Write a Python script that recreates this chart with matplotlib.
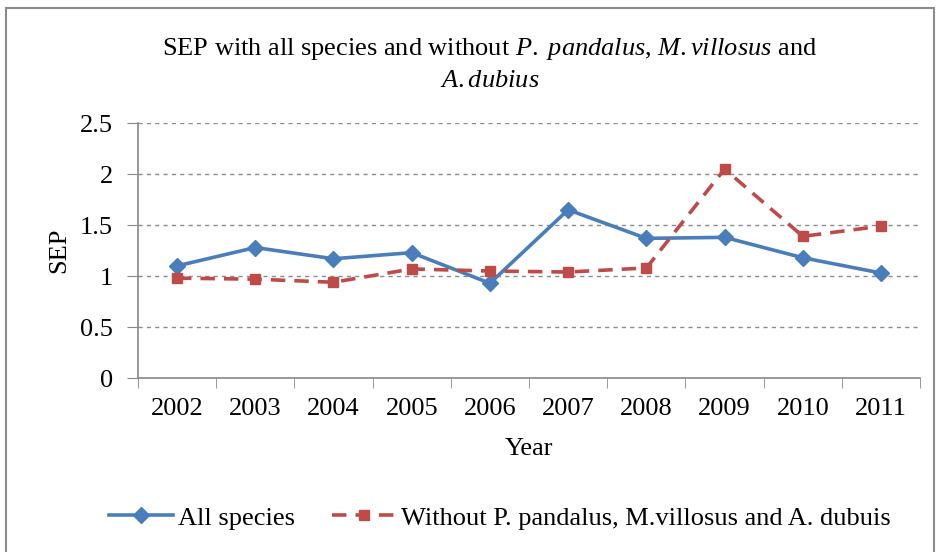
import matplotlib.pyplot as plt
import numpy as np
from matplotlib.patches import Rectangle

plt.rcParams['font.family'] = ['Liberation Serif', 'DejaVu Serif']
plt.rcParams['mathtext.fontset'] = 'custom'
plt.rcParams['mathtext.rm'] = 'Liberation Serif'
plt.rcParams['mathtext.it'] = 'Liberation Serif:italic'

years = ['2002', '2003', '2004', '2005', '2006', '2007', '2008', '2009', '2010', '2011']
all_species = [1.10, 1.28, 1.17, 1.23, 0.93, 1.65, 1.37, 1.38, 1.18, 1.03]
without = [0.98, 0.97, 0.94, 1.07, 1.05, 1.04, 1.08, 2.05, 1.39, 1.49]

fig = plt.figure(figsize=(9.38, 5.52), dpi=100)
ax = fig.add_axes([0.147, 0.315, 0.834, 0.462])

x = np.arange(len(years))
ax.plot(x, all_species, color='#4A7EBB', lw=2.6, marker='D', ms=8,
        label='All species')
ax.plot(x, without, color='#BE4B48', lw=2.6, ls=(0, (4, 2.5)), marker='s', ms=7,
        label='Without P. pandalus, M.villosus and A. dubuis')

ax.set_xlim(-0.5, len(years) - 0.5)
ax.set_ylim(0, 2.5)
ax.set_yticks(np.arange(0, 2.51, 0.5))
ax.set_yticklabels(['0', '0.5', '1', '1.5', '2', '2.5'])
ax.set_xticks(x)
ax.set_xticklabels(years)
ax.set_xticks(np.arange(-0.5, len(years), 1), minor=True)
ax.tick_params(axis='x', which='major', length=0, pad=14, labelsize=19)
ax.tick_params(axis='x', which='minor', length=7, direction='out', color='#888888')
ax.tick_params(axis='y', length=8, direction='out', color='#888888', labelsize=19, pad=10)

ax.yaxis.grid(True, linestyle=(0, (3, 3)), color='#8c8c8c', lw=1)
ax.set_axisbelow(True)
for s in ['top', 'right']:
    ax.spines[s].set_visible(False)
for s in ['left', 'bottom']:
    ax.spines[s].set_color('#888888')
    ax.spines[s].set_linewidth(1.2)

ax.set_xlabel('Year', fontsize=19, labelpad=13)
ax.set_ylabel('SEP', fontsize=19, labelpad=7)

fig.text(0.522, 0.911,
         r'SEP with all species and without $\mathit{P.\ pandalus}$, $\mathit{M.villosus}$ and',
         ha='center', va='center', fontsize=19)
fig.text(0.522, 0.853, r'$\mathit{A.dubius}$', ha='center', va='center', fontsize=19)

fig.legend(loc='center', bbox_to_anchor=(0.533, 0.062), ncol=2, frameon=False,
           fontsize=19, handlelength=2.4, columnspacing=1.4, handletextpad=0.2)

fig.patches.append(Rectangle((0.006, -0.01), 0.99, 0.996, transform=fig.transFigure,
                             fill=False, edgecolor='#8c8c8c', lw=1.5))

fig.savefig('out.png', dpi=100)
